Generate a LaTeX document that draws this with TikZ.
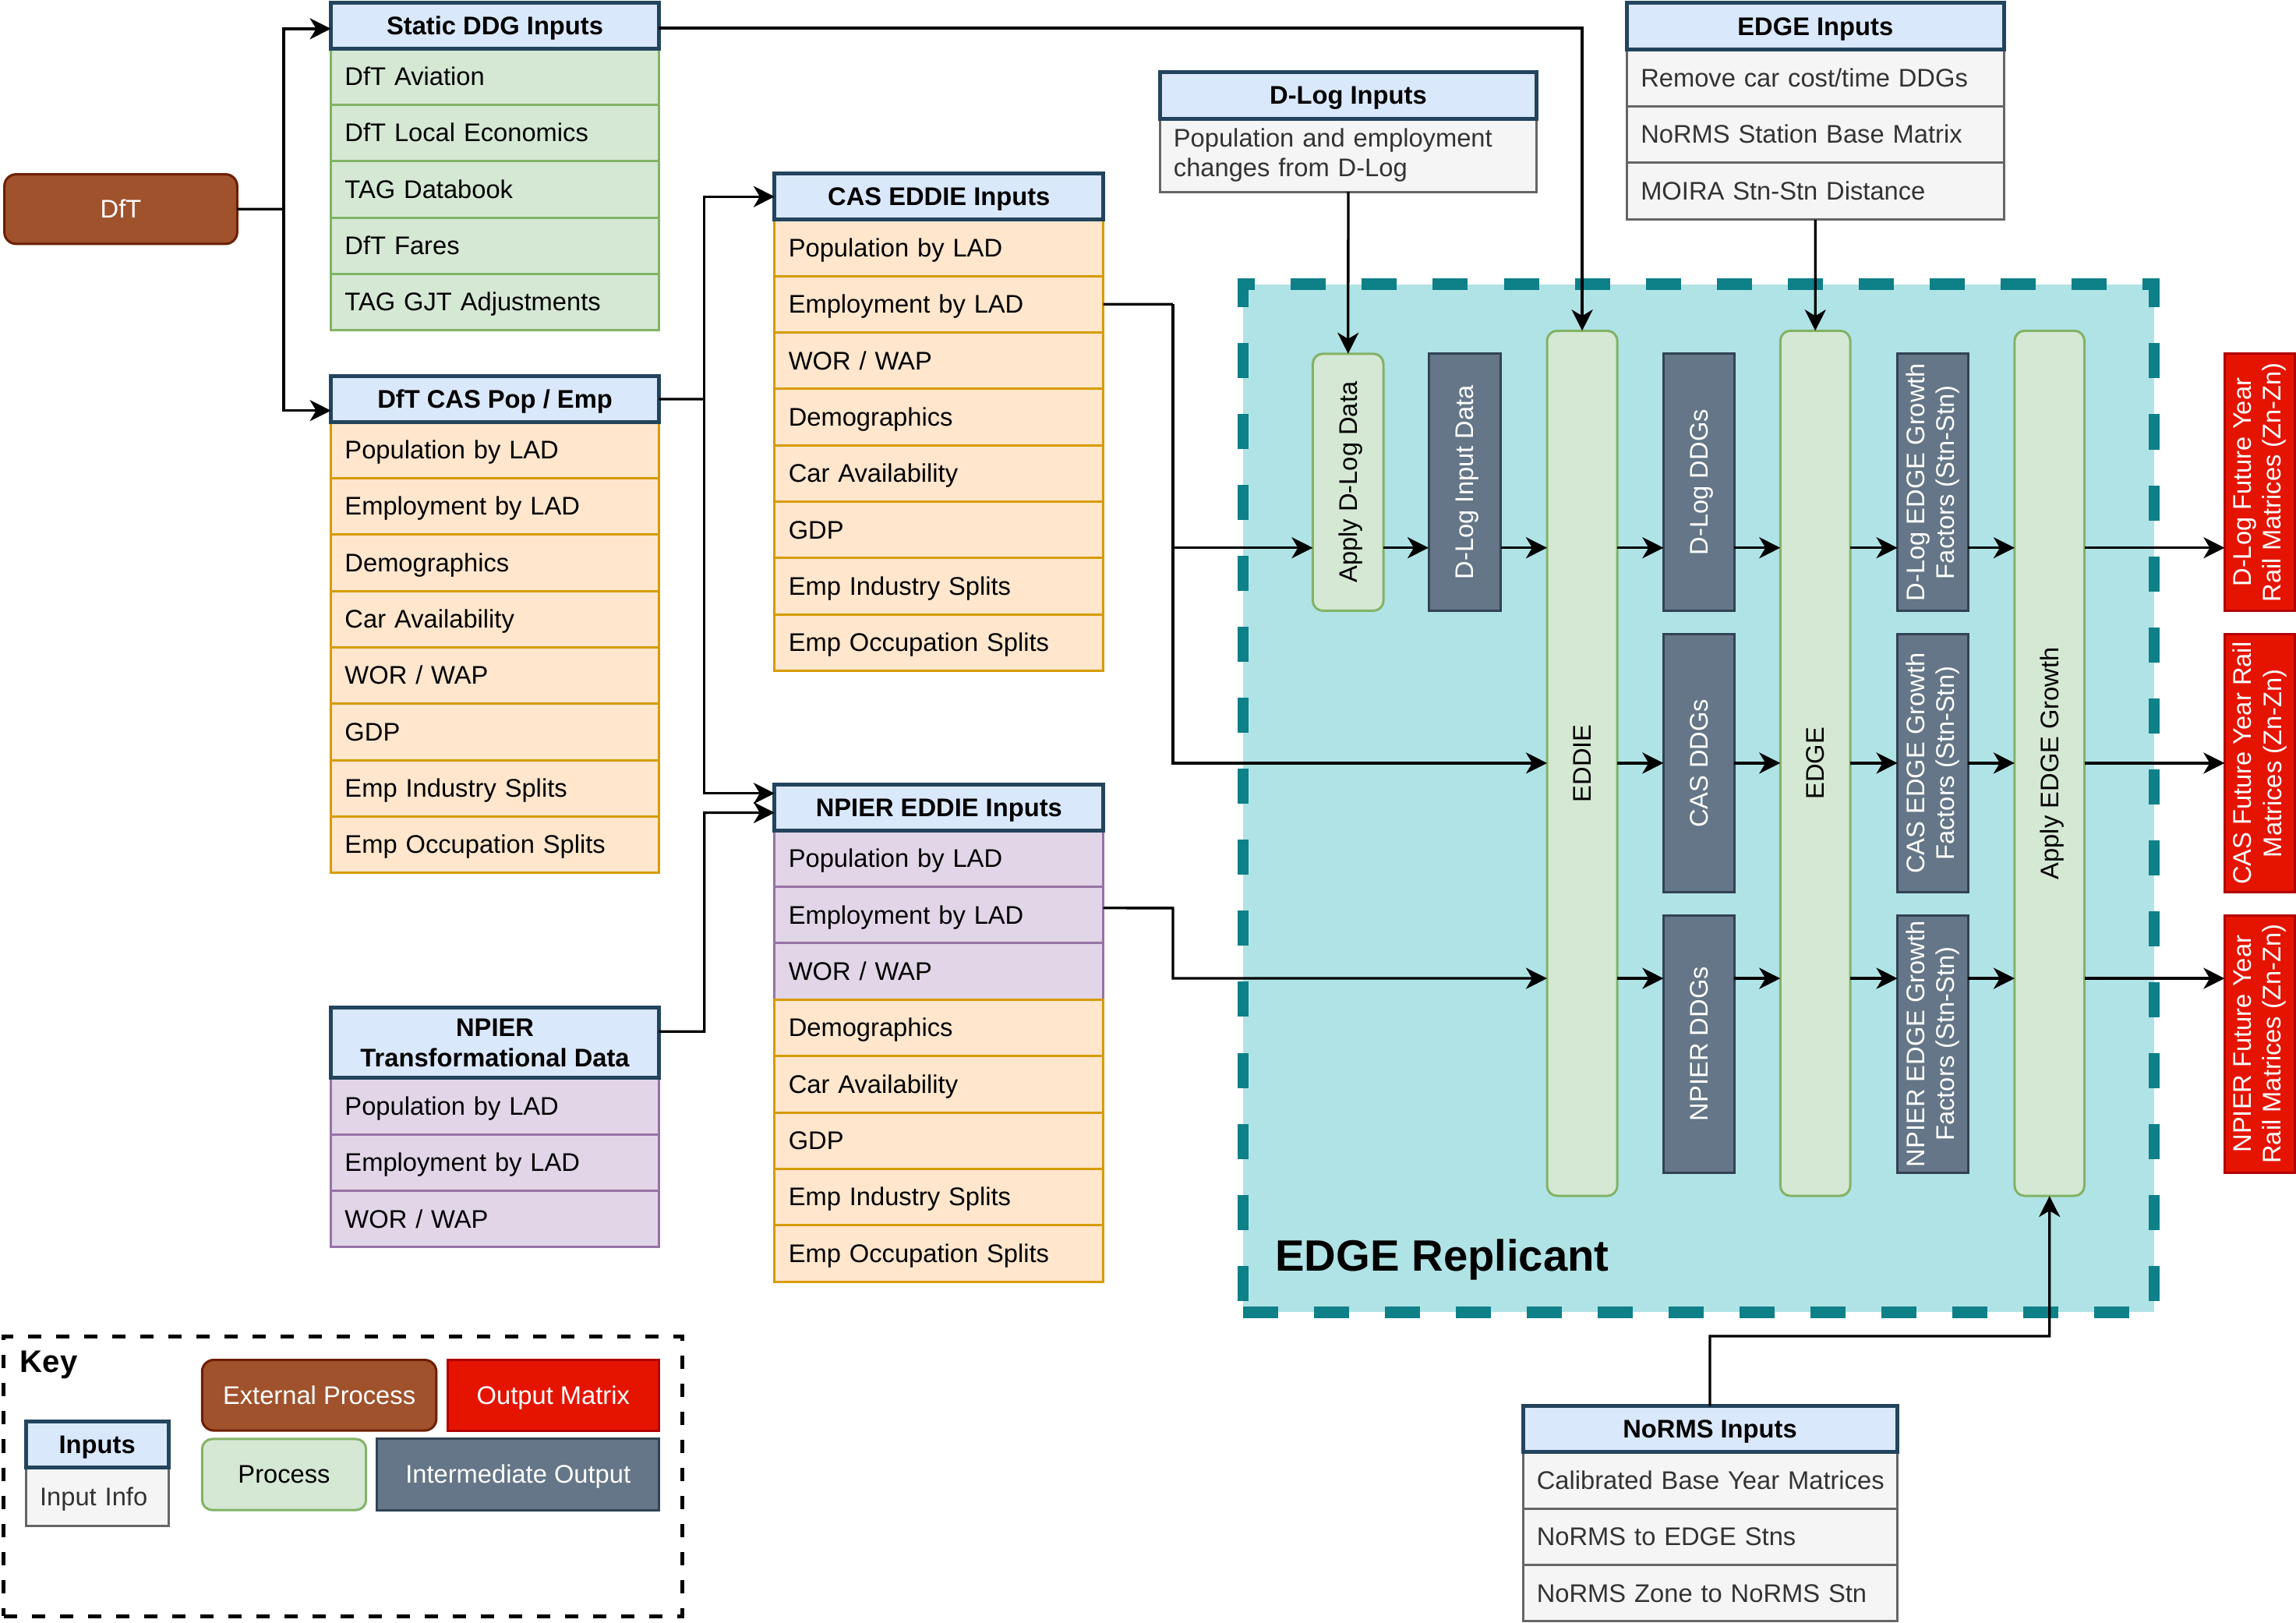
\documentclass[tikz,border=0pt]{standalone}
\usepackage{fontspec}
\setmainfont{Liberation Sans}
\usetikzlibrary{arrows.meta,calc}
\definecolor{hdrfill}{HTML}{DAE8FC}\definecolor{hdrline}{HTML}{23445D}
\definecolor{grfill}{HTML}{D5E8D4}\definecolor{grline}{HTML}{82B366}
\definecolor{orfill}{HTML}{FFE6CC}\definecolor{orline}{HTML}{D79B00}
\definecolor{pufill}{HTML}{E1D5E7}\definecolor{puline}{HTML}{9673A6}
\definecolor{gyfill}{HTML}{F5F5F5}\definecolor{gyline}{HTML}{666666}\definecolor{gytext}{HTML}{333333}
\definecolor{brfill}{HTML}{A0522D}\definecolor{brline}{HTML}{6D1F00}
\definecolor{rdfill}{HTML}{E51400}\definecolor{rdline}{HTML}{B20000}
\definecolor{slfill}{HTML}{647687}\definecolor{slline}{HTML}{314354}
\definecolor{tlfill}{HTML}{B0E3E6}\definecolor{tlline}{HTML}{0E8088}
% box with centred text: name, x1, y1, x2, y2, style, text
\newcommand\myBx[7]{%
  \pgfmathsetmacro\myBW{(#4-#2)*0.018788}%
  \pgfmathsetmacro\myBH{(#5-#3)*0.018788}%
  \node[sl, #6, anchor=north west, minimum width=\myBW cm, minimum height=\myBH cm, align=center] (#1) at (#2,#3) {#7};}
% row with left text
\newcommand\myRw[7]{%
  \pgfmathsetmacro\myBW{(#4-#2)*0.018788}%
  \pgfmathsetmacro\myBH{(#5-#3)*0.018788}%
  \pgfmathsetmacro\myTW{(#4-#2-19)*0.018788}%
  \node[sl, #6, anchor=north west, minimum width=\myBW cm, minimum height=\myBH cm, text width=\myTW cm, inner xsep=0.1785cm, align=left] (#1) at (#2,#3) {#7};}
% column with rotated text: name, x1, y1, x2, y2, box style, text options, text
\newcommand\myCl[8]{%
  \myBx{#1}{#2}{#3}{#4}{#5}{#6}{}%
  \node[base, #7, rotate=90, align=center] (#1-t) at (#1.center) {#8};}
\begin{document}
\begin{tikzpicture}[x=0.018788cm,y=-0.018788cm,
  base/.style={font=\fontsize{9.3}{10.9}\selectfont, inner sep=0pt, outer sep=0pt},
  sl/.style={text height=8.42pt, text depth=1.97pt},
  hdr/.style={base, draw=hdrline, fill=hdrfill, line width=0.05cm, font=\fontsize{9.3}{10.9}\selectfont\bfseries},
  rgreen/.style={base, draw=grline, fill=grfill, line width=0.03cm},
  rorange/.style={base, draw=orline, fill=orfill, line width=0.03cm},
  rpurple/.style={base, draw=puline, fill=pufill, line width=0.03cm},
  rgray/.style={base, draw=gyline, fill=gyfill, line width=0.03cm, text=gytext},
  proc/.style={base, draw=grline, fill=grfill, line width=0.03cm, rounded corners=0.13cm},
  inter/.style={base, draw=slline, fill=slfill, line width=0.03cm, text=white},
  outm/.style={base, draw=rdline, fill=rdfill, line width=0.03cm, text=white},
  extp/.style={base, draw=brline, fill=brfill, line width=0.03cm, rounded corners=0.15cm, text=white},
  repl/.style={base, draw=tlline, fill=tlfill, line width=0.143cm, dash pattern=on 0.45cm off 0.46cm},
  keyb/.style={base, draw=black, line width=0.053cm, dash pattern=on 0.17cm off 0.19cm},
  conn/.style={line width=0.033cm},
  arr/.style={line width=0.033cm, -{Stealth[length=0.27cm, width=0.27cm, inset=0.08cm]}},
]
\useasboundingbox (0,0) rectangle (1568,1108);

% EDGE Replicant container
\myBx{rep}{849}{194}{1471}{896}{repl}{}
\node[base, font=\fontsize{16}{19}\selectfont\bfseries, anchor=base west] (replab) at (871,868) {EDGE Replicant};

% DfT
\myBx{dft}{3}{119}{162}{166.5}{extp}{DfT}

% Static DDG Inputs
\myRw{sdi1}{226}{33}{450}{71.5}{rgreen}{DfT Aviation}
\myRw{sdi2}{226}{71.5}{450}{110}{rgreen}{DfT Local Economics}
\myRw{sdi3}{226}{110}{450}{148.5}{rgreen}{TAG Databook}
\myRw{sdi4}{226}{148.5}{450}{187}{rgreen}{DfT Fares}
\myRw{sdi5}{226}{187}{450}{225.5}{rgreen}{TAG GJT Adjustments}
\myBx{sdih}{226}{2}{450}{33}{hdr}{Static DDG Inputs}

% DfT CAS Pop / Emp
\myRw{dcp1}{226}{288}{450}{326.5}{rorange}{Population by LAD}
\myRw{dcp2}{226}{326.5}{450}{365}{rorange}{Employment by LAD}
\myRw{dcp3}{226}{365}{450}{403.5}{rorange}{Demographics}
\myRw{dcp4}{226}{403.5}{450}{442}{rorange}{Car Availability}
\myRw{dcp5}{226}{442}{450}{480.5}{rorange}{WOR / WAP}
\myRw{dcp6}{226}{480.5}{450}{519}{rorange}{GDP}
\myRw{dcp7}{226}{519}{450}{557.5}{rorange}{Emp Industry Splits}
\myRw{dcp8}{226}{557.5}{450}{596}{rorange}{Emp Occupation Splits}
\myBx{dcph}{226}{257}{450}{288}{hdr}{DfT CAS Pop / Emp}

% NPIER Transformational Data
\myRw{nt1}{226}{736}{450}{774.5}{rpurple}{Population by LAD}
\myRw{nt2}{226}{774.5}{450}{813}{rpurple}{Employment by LAD}
\myRw{nt3}{226}{813}{450}{851.5}{rpurple}{WOR / WAP}
\myBx{nth}{226}{688}{450}{736}{hdr,text height=,text depth=}{NPIER\\Transformational Data}

% CAS EDDIE Inputs
\myRw{ce1}{529}{150}{753.5}{188.5}{rorange}{Population by LAD}
\myRw{ce2}{529}{188.5}{753.5}{227}{rorange}{Employment by LAD}
\myRw{ce3}{529}{227}{753.5}{265.5}{rorange}{WOR / WAP}
\myRw{ce4}{529}{265.5}{753.5}{304}{rorange}{Demographics}
\myRw{ce5}{529}{304}{753.5}{342.5}{rorange}{Car Availability}
\myRw{ce6}{529}{342.5}{753.5}{381}{rorange}{GDP}
\myRw{ce7}{529}{381}{753.5}{419.5}{rorange}{Emp Industry Splits}
\myRw{ce8}{529}{419.5}{753.5}{458}{rorange}{Emp Occupation Splits}
\myBx{ceh}{529}{118.5}{753.5}{150}{hdr}{CAS EDDIE Inputs}

% NPIER EDDIE Inputs
\myRw{ne1}{529}{567}{753.5}{605.5}{rpurple}{Population by LAD}
\myRw{ne2}{529}{605.5}{753.5}{644}{rpurple}{Employment by LAD}
\myRw{ne3}{529}{644}{753.5}{682.5}{rpurple}{WOR / WAP}
\myRw{ne4}{529}{682.5}{753.5}{721}{rorange}{Demographics}
\myRw{ne5}{529}{721}{753.5}{759.5}{rorange}{Car Availability}
\myRw{ne6}{529}{759.5}{753.5}{798}{rorange}{GDP}
\myRw{ne7}{529}{798}{753.5}{836.5}{rorange}{Emp Industry Splits}
\myRw{ne8}{529}{836.5}{753.5}{875}{rorange}{Emp Occupation Splits}
\myBx{neh}{529}{535.5}{753.5}{567}{hdr}{NPIER EDDIE Inputs}

% D-Log Inputs
\myRw{dlr}{792}{81}{1049.5}{131}{rgray,text height=,text depth=}{Population and employment\\changes from D-Log}
\myBx{dlh}{792}{49}{1049.5}{81}{hdr}{D-Log Inputs}

% EDGE Inputs
\myRw{ei1}{1111}{34}{1368.5}{72.5}{rgray}{Remove car cost/time DDGs}
\myRw{ei2}{1111}{72.5}{1368.5}{111}{rgray}{NoRMS Station Base Matrix}
\myRw{ei3}{1111}{111}{1368.5}{150}{rgray}{MOIRA Stn-Stn Distance}
\myBx{eih}{1111}{2}{1368.5}{34}{hdr}{EDGE Inputs}

% NoRMS Inputs
\myRw{ni1}{1040}{991.5}{1295.5}{1030}{rgray}{\mbox{Calibrated Base Year Matrices}}
\myRw{ni2}{1040}{1030}{1295.5}{1068.5}{rgray}{NoRMS to EDGE Stns}
\myRw{ni3}{1040}{1068.5}{1295.5}{1107}{rgray}{NoRMS Zone to NoRMS Stn}
\myBx{nih}{1040}{960}{1295.5}{991.5}{hdr}{NoRMS Inputs}

% Columns inside EDGE Replicant
\myCl{apdl}{896.5}{241.5}{944.8}{417}{proc}{text=black,sl}{Apply D-Log Data}
\myCl{dlid}{975.6}{241.5}{1025}{417}{inter}{text=white,sl}{D-Log Input Data}
\myCl{eddie}{1056.5}{225.8}{1104.5}{816.5}{proc}{text=black,sl}{EDDIE}
\myCl{dlddg}{1136}{241.5}{1184.3}{417}{inter}{text=white,sl}{D-Log DDGs}
\myCl{casddg}{1136}{433.2}{1184.3}{609.2}{inter}{text=white,sl}{CAS DDGs}
\myCl{npddg}{1136}{625}{1184.3}{800.5}{inter}{text=white,sl}{NPIER DDGs}
\myCl{edge}{1215.8}{225.8}{1263.6}{816.5}{proc}{text=black,sl}{EDGE}
\myCl{dlgf}{1295.8}{241.5}{1344}{417}{inter}{text=white}{D-Log EDGE Growth\\Factors (Stn-Stn)}
\myCl{casgf}{1295.8}{433.2}{1344}{609.2}{inter}{text=white}{CAS EDGE Growth\\Factors (Stn-Stn)}
\myCl{npgf}{1295.8}{625}{1344}{800.5}{inter}{text=white}{NPIER EDGE Growth\\Factors (Stn-Stn)}
\myCl{aeg}{1375.8}{225.8}{1423.5}{816.5}{proc}{text=black,sl}{Apply EDGE Growth}

% Output matrices
\myCl{odl}{1519.2}{241.5}{1567.3}{417}{outm}{text=white}{D-Log Future Year\\Rail Matrices (Zn-Zn)}
\myCl{ocas}{1519.2}{433.2}{1567.3}{609.2}{outm}{text=white}{CAS Future Year Rail\\Matrices (Zn-Zn)}
\myCl{onp}{1519.2}{625}{1567.3}{800.5}{outm}{text=white}{NPIER Future Year\\Rail Matrices (Zn-Zn)}

% Key
\myBx{keybox}{2.5}{912.5}{466}{1103.5}{keyb}{}
\node[base, font=\fontsize{11.4}{13}\selectfont\bfseries, anchor=base west] (keylab) at (13.8,937) {Key};
\myRw{kir}{17.7}{1002}{115}{1042}{rgray}{Input Info}
\myBx{kih}{17.7}{970.5}{115}{1002}{hdr}{Inputs}
\myBx{kext}{138}{928.5}{298}{976.7}{extp}{External Process}
\myBx{kout}{305.6}{928.5}{450}{976.7}{outm}{Output Matrix}
\myBx{kproc}{138}{982.5}{250}{1031}{proc}{Process}
\myBx{kint}{257.6}{982.5}{450}{1031}{inter}{Intermediate Output}

% ---------- connectors ----------
\coordinate (r1) at (0,374);
\coordinate (r2) at (0,521);
\coordinate (r3) at (0,668);
\coordinate (j1) at (193.7,142.8);
\coordinate (j2) at (481,272.5);
\coordinate (j3) at (801,207.75);
\coordinate (j4) at (1167.75,912.3);
\coordinate (j5) at (801,620);
\coordinate (j6) at (481,704.3);

\draw[conn] (dft.east) -- (j1);
\draw[arr] (j1) |- ([yshift=-0.04cm]sdih.west);
\draw[arr] (j1) |- ([yshift=-0.147cm]dcph.west);

\draw[arr] ([yshift=-0.03cm]sdih.east) -| (eddie.north);

\draw[conn] (dcph.east) -- (j2);
\draw[arr] (j2) |- (ceh.west);
\draw[arr] (j2) |- ([yshift=0.18cm]neh.west);
\draw[arr] ([yshift=0.145cm]nth.east) -- (j6) |- ([yshift=-0.068cm]neh.west);

\draw[conn] (ce2.east) -- (j3);
\draw[arr] (j3) |- (apdl.west |- r1);
\draw[arr] (j3) |- (eddie.west |- r2);
\draw[arr] ([yshift=0.09cm]ne2.east) -- (j5) |- (eddie.west |- r3);

\draw[arr] (dlr.south) -- (apdl.north);
\draw[arr] (ei3.south) -- (edge.north);
\draw[arr] (nih.north) -- (j4) -| (aeg.south);

% D-Log row
\draw[arr] (apdl.east |- r1) -- (dlid.west |- r1);
\draw[arr] (dlid.east |- r1) -- (eddie.west |- r1);
\draw[arr] (eddie.east |- r1) -- (dlddg.west |- r1);
\draw[arr] (dlddg.east |- r1) -- (edge.west |- r1);
\draw[arr] (edge.east |- r1) -- (dlgf.west |- r1);
\draw[arr] (dlgf.east |- r1) -- (aeg.west |- r1);
\draw[arr] (aeg.east |- r1) -- (odl.west |- r1);
% CAS row
\draw[arr] (eddie.east |- r2) -- (casddg.west |- r2);
\draw[arr] (casddg.east |- r2) -- (edge.west |- r2);
\draw[arr] (edge.east |- r2) -- (casgf.west |- r2);
\draw[arr] (casgf.east |- r2) -- (aeg.west |- r2);
\draw[arr] (aeg.east |- r2) -- (ocas.west |- r2);
% NPIER row
\draw[arr] (eddie.east |- r3) -- (npddg.west |- r3);
\draw[arr] (npddg.east |- r3) -- (edge.west |- r3);
\draw[arr] (edge.east |- r3) -- (npgf.west |- r3);
\draw[arr] (npgf.east |- r3) -- (aeg.west |- r3);
\draw[arr] (aeg.east |- r3) -- (onp.west |- r3);
\end{tikzpicture}
\end{document}
